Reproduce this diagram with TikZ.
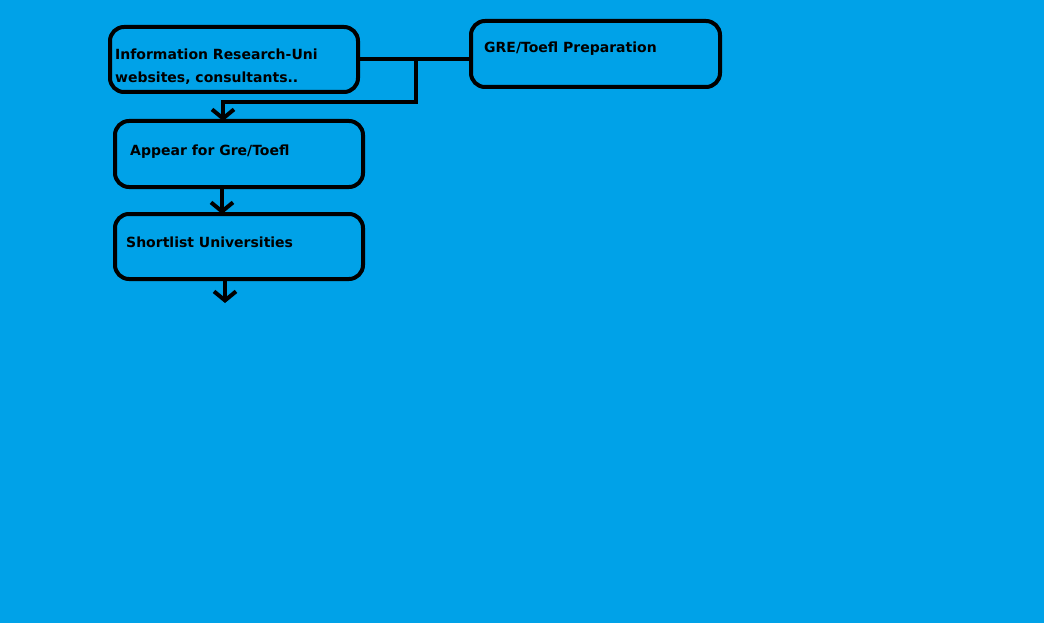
\documentclass[tikz,border=0pt]{standalone}
\usepackage{fontspec}
\setmainfont{DejaVu Sans}
\usetikzlibrary{arrows.meta}

\definecolor{paintblue}{RGB}{0,162,232}

\begin{document}
\begin{tikzpicture}[x=1pt, y=-1pt,
		box/.style={draw=black, line width=4pt, rounded corners=14pt, inner sep=0pt, outer sep=0pt, minimum width=\boxw pt, minimum height=\boxh pt},
		boxtext/.style={anchor=base west, inner sep=0pt, align=left, font=\fontsize{14}{23}\selectfont\bfseries},
		link/.style={line width=4pt, black},
		arrowlink/.style={link, -{Straight Barb[length=9pt, width=22pt, line width=4pt]}}]
	
		\fill[paintblue] (0,0) rectangle (1044,623);
		\useasboundingbox (0,0) rectangle (1044,623);
		
		\def\boxw{248}
		\def\boxh{65}
		
		\node[box] (info) at (234, 59.5) {};
		\node[box, minimum width=249pt, minimum height=66pt] (prep) at (595.5, 54) {};
		\node[box, minimum height=66pt] (appear) at (239, 154) {};
		\node[box] (short) at (239, 246.5) {};
		
		% multi-line text: base is the last line
		\node[boxtext] (infotext) at (115, 83) {Information Research-Uni\\websites, consultants..};
		\node[boxtext] (preptext) at (484, 53) {GRE/Toefl Preparation};
		\node[boxtext] (appeartext) at (130, 155) {Appear for Gre/Toefl};
		\node[boxtext] (shorttext) at (126, 247) {Shortlist Universities};
		
		\coordinate (split) at (416, 59.5);
		\coordinate (next) at (225, 303);
		
		\draw[link] (info.east) -- (info.east -| prep.west);
		\draw[arrowlink] (split) -- (416, 102) -| ([xshift=-16pt]appear.north);
		\draw[arrowlink] ([xshift=-17pt]appear.south) -- ([xshift=-17pt]short.north);
		\draw[arrowlink] ([xshift=-14pt]short.south) -- (next);
	
	\end{tikzpicture}
\end{document}
